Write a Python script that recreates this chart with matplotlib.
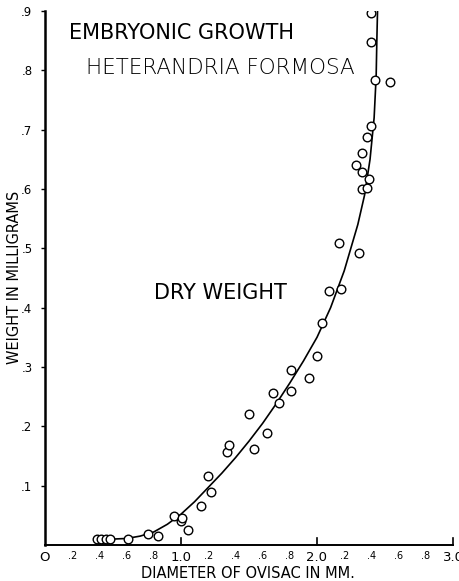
import matplotlib
matplotlib.use("Agg")
import matplotlib.pyplot as plt

# Measured points: ovisac diameter (mm) vs dry weight (mg)
diameter = [0.38, 0.41, 0.45, 0.48, 0.61, 0.76, 0.83, 0.95, 1.00, 1.01, 1.05,
            1.15, 1.20, 1.22, 1.34, 1.35, 1.50, 1.54, 1.63, 1.68, 1.72, 1.81,
            1.81, 1.94, 2.00, 2.04, 2.09, 2.16, 2.18, 2.31, 2.29, 2.33, 2.33,
            2.33, 2.37, 2.37, 2.38, 2.40, 2.40, 2.40, 2.43, 2.54]
weight = [0.010, 0.010, 0.010, 0.010, 0.010, 0.019, 0.015, 0.049, 0.041, 0.046, 0.025,
          0.066, 0.116, 0.089, 0.157, 0.169, 0.221, 0.162, 0.189, 0.256, 0.239, 0.260,
          0.295, 0.282, 0.319, 0.374, 0.428, 0.509, 0.432, 0.492, 0.641, 0.600, 0.629,
          0.661, 0.602, 0.688, 0.617, 0.707, 0.848, 0.897, 0.783, 0.781]

# Hand-fitted growth curve
curve_x = [0.36, 0.50, 0.60, 0.70, 0.80, 0.90, 1.00, 1.10, 1.20, 1.30, 1.40, 1.50,
           1.60, 1.70, 1.80, 1.90, 2.00, 2.10, 2.20, 2.30, 2.35, 2.39, 2.42, 2.435,
           2.44, 2.445]
curve_y = [0.010, 0.010, 0.011, 0.015, 0.022, 0.035, 0.052, 0.073, 0.097, 0.121,
           0.147, 0.175, 0.205, 0.238, 0.273, 0.310, 0.350, 0.400, 0.462, 0.540,
           0.590, 0.650, 0.720, 0.790, 0.850, 0.900]

xtick_pos = [0, 0.2, 0.4, 0.6, 0.8, 1.0, 1.2, 1.4, 1.6, 1.8, 2.0, 2.2, 2.4, 2.6, 2.8, 3.0]
xtick_lab = ["O", ".2", ".4", ".6", ".8", "1.0", ".2", ".4", ".6", ".8", "2.0",
             ".2", ".4", ".6", ".8", "3.0"]
ytick_pos = [0.1, 0.2, 0.3, 0.4, 0.5, 0.6, 0.7, 0.8, 0.9]
ytick_lab = [".1", ".2", ".3", ".4", ".5", ".6", ".7", ".8", ".9"]

plt.rcParams["font.family"] = "DejaVu Sans"

fig = plt.figure(figsize=(4.6, 5.81), dpi=100)
ax = fig.add_axes([45 / 460, 36 / 581, 408 / 460, 534 / 581])

ax.plot(curve_x, curve_y, color="black", linewidth=1.2, zorder=2)
ax.plot(diameter, weight, linestyle="none", marker="o", markersize=6.2,
        markerfacecolor="white", markeredgecolor="black", markeredgewidth=1.0, zorder=3)

ax.set_xlim(0, 3.0)
ax.set_ylim(0, 0.9)

for side in ["top", "right"]:
    ax.spines[side].set_visible(False)
ax.spines["left"].set_linewidth(1.8)
ax.spines["bottom"].set_linewidth(1.4)

ax.set_xticks(xtick_pos)
ax.set_xticklabels(xtick_lab)
ax.set_yticks(ytick_pos)
ax.set_yticklabels(ytick_lab)
ax.tick_params(axis="x", direction="in", length=0, pad=4, labelsize=7)
ax.tick_params(axis="y", direction="out", length=3, width=1, pad=6, labelsize=8.5)
for lab in ax.get_xticklabels():
    if lab.get_text() in ("O", "1.0", "2.0", "3.0"):
        lab.set_fontsize(9.5)

# inward ticks at whole millimetres
for xv in [1.0, 2.0, 3.0]:
    ax.plot([xv, xv], [0, 0.012], color="black", linewidth=1.2, clip_on=False)

ax.text(0.18, 0.863, "EMBRYONIC GROWTH", fontsize=15, ha="left", va="center")
ax.text(0.30, 0.804, "HETERANDRIA FORMOSA", fontsize=15.5, ha="left", va="center",
        fontweight="light")
ax.text(0.80, 0.424, "DRY WEIGHT", fontsize=15, ha="left", va="center")

fig.text(15 / 460, 1 - 277 / 581, "WEIGHT IN MILLIGRAMS", rotation=90,
         fontsize=10.5, ha="center", va="center")
fig.text(248 / 460, 1 - 573 / 581, "DIAMETER OF OVISAC IN MM.", fontsize=10.5,
         ha="center", va="center")

fig.savefig("out.png", dpi=100)
